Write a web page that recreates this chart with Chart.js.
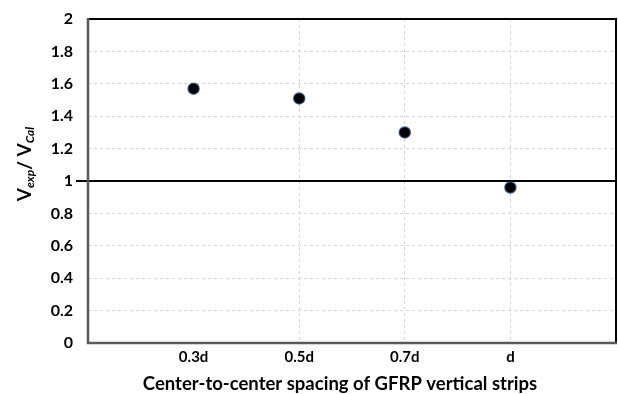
<!DOCTYPE html>
<html>
<head>
<meta charset="utf-8">
<script src="https://cdn.jsdelivr.net/npm/chart.js@4"></script>
<style>
  html, body { margin: 0; padding: 0; background: #fff; }
  #wrap { width: 618px; height: 394px; position: relative; }
</style>
</head>
<body>
<div id="wrap"><canvas id="ratioChart" width="618" height="394"></canvas></div>
<script>
// spacing categories and measured V_exp / V_Cal ratios
var spacings = ['0.3d', '0.5d', '0.7d', 'd'];
var ratios = [1.57, 1.51, 1.30, 0.96];
var spacingPos = [1, 2, 3, 4];
var yTicks = [0, 0.2, 0.4, 0.6, 0.8, 1, 1.2, 1.4, 1.6, 1.8, 2];
var refValue = 1;
var xTitle = 'Center-to-center spacing of GFRP vertical strips';

var FONT = 'Lato, "Open Sans", sans-serif';

// frame, reference line and axis titles
var decorPlugin = {
	id: 'decor',
	beforeDatasetsDraw: function(chart) {
		var ctx = chart.ctx;
		var a = chart.chartArea;
		var y = chart.scales.y.getPixelForValue(refValue);
		ctx.save();
		ctx.strokeStyle = '#000';
		ctx.lineWidth = 2;
		ctx.beginPath();
		ctx.moveTo(a.left - 12, y);
		ctx.lineTo(a.right, y);
		ctx.stroke();
		// top / right border
		ctx.beginPath();
		ctx.moveTo(a.left, a.top);
		ctx.lineTo(a.right, a.top);
		ctx.lineTo(a.right, a.bottom);
		ctx.stroke();
		// left / bottom axis lines
		ctx.strokeStyle = '#5a5a5a';
		ctx.lineWidth = 2.5;
		ctx.beginPath();
		ctx.moveTo(a.left, a.top - 1);
		ctx.lineTo(a.left, a.bottom);
		ctx.lineTo(a.right + 1, a.bottom);
		ctx.stroke();
		ctx.restore();
	},
	afterDraw: function(chart) {
		var ctx = chart.ctx;
		ctx.save();
		ctx.fillStyle = '#000';
		// x title
		ctx.font = 'bold 18.5px ' + FONT;
		ctx.textAlign = 'center';
		ctx.textBaseline = 'middle';
		ctx.fillText(xTitle, 340, 384);
		// y title: V_exp / V_Cal, rotated
		var parts = [
			{ t: 'V', f: 'bold 19px ' + FONT, dy: 0 },
			{ t: 'exp', f: 'italic bold 12px ' + FONT, dy: 5 },
			{ t: '/ ', f: 'bold 19px ' + FONT, dy: 0 },
			{ t: 'V', f: 'bold 19px ' + FONT, dy: 0 },
			{ t: 'Cal', f: 'italic bold 12px ' + FONT, dy: 5 }
		];
		var total = 0;
		for (let p of parts) {
			ctx.font = p.f;
			p.w = ctx.measureText(p.t).width;
			total += p.w;
		}
		ctx.translate(25, 164);
		ctx.rotate(-Math.PI / 2);
		ctx.textAlign = 'left';
		ctx.textBaseline = 'middle';
		var x = -total / 2;
		for (let p of parts) {
			ctx.font = p.f;
			ctx.fillText(p.t, x, p.dy);
			x += p.w;
		}
		ctx.restore();
	}
};

var gridColor = function(ctx, lo, hi) {
	var v = ctx.tick ? ctx.tick.value : null;
	if (v == null) return 'transparent';
	if (v > lo + 1e-6 && v < hi - 1e-6 && Math.abs(v - refValue) > 1e-6) return '#d4d4d4';
	return 'transparent';
};

var noPad = function(scale) {
	scale.paddingLeft = 0;
	scale.paddingRight = 0;
	scale.paddingTop = 0;
	scale.paddingBottom = 0;
};

const nc = document.getElementById('ratioChart');
var ratioChart = new Chart(nc, {
	type: 'scatter',
	data: {
		datasets: [{
			label: 'Vexp / VCal',
			data: spacingPos.map(function(p, i) { return { x: p, y: ratios[i] }; }),
			backgroundColor: '#000',
			borderColor: 'rgba(25, 55, 105, 0.75)',
			borderWidth: 1.5,
			pointRadius: 5.5,
			pointHoverRadius: 5.5
		}]
	},
	options: {
		responsive: false,
		animation: false,
		events: [],
		layout: { autoPadding: false, padding: { top: 19, right: 2, left: 0, bottom: 0 } },
		plugins: {
			legend: { display: false },
			tooltip: { enabled: false }
		},
		scales: {
			x: {
				type: 'linear',
				min: 0,
				max: spacings.length + 1,
				afterBuildTicks: function(scale) {
					scale.ticks = [0].concat(spacingPos, [spacings.length + 1]).map(function(v) { return { value: v }; });
				},
				afterFit: function(scale) { scale.height = 51; noPad(scale); },
				ticks: {
					padding: 5,
					color: '#000',
					font: { family: FONT, size: 15, weight: 'bold' },
					callback: function(v) {
						var i = spacingPos.indexOf(v);
						return i >= 0 ? spacings[i] : '';
					}
				},
				grid: {
					drawTicks: false,
					lineWidth: 1,
					color: function(ctx) { return gridColor(ctx, 0, spacings.length + 1); }
				},
				border: { display: false, dash: [3, 3] }
			},
			y: {
				min: 0,
				max: 2,
				afterBuildTicks: function(scale) {
					scale.ticks = yTicks.map(function(v) { return { value: v }; });
				},
				afterFit: function(scale) { scale.width = 88; noPad(scale); },
				ticks: {
					padding: 15,
					color: '#000',
					font: { family: FONT, size: 16, weight: 'bold' },
					callback: function(v) { return String(Math.round(v * 10) / 10); }
				},
				grid: {
					drawTicks: false,
					lineWidth: 1,
					color: function(ctx) { return gridColor(ctx, 0, 2); }
				},
				border: { display: false, dash: [3, 3] }
			}
		}
	},
	plugins: [decorPlugin]
});
</script>
</body>
</html>
